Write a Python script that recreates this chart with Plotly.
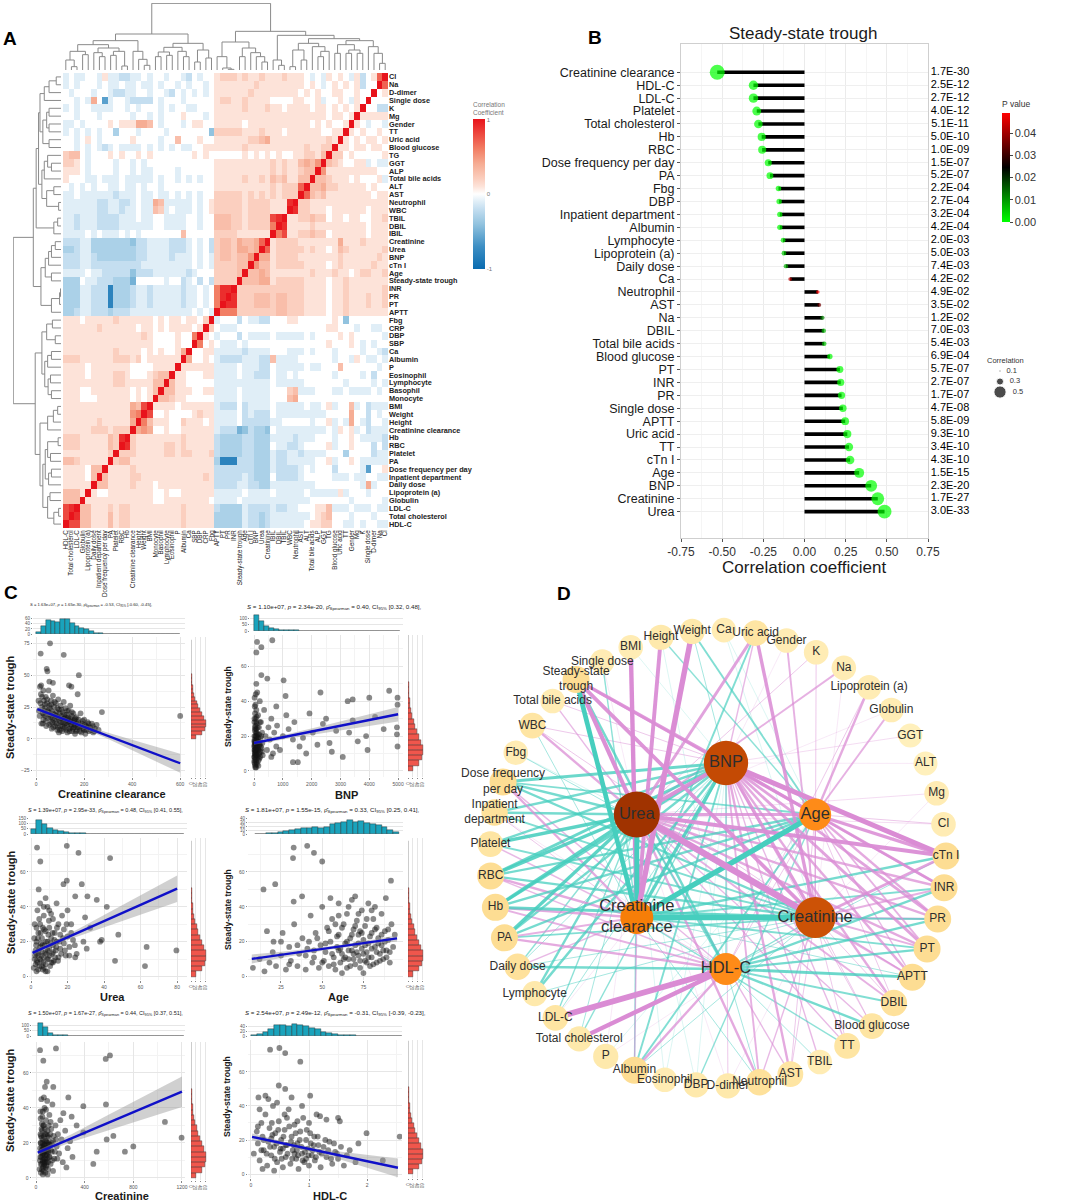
import numpy as np
import plotly.graph_objects as go

W, H = 1065, 1203
FONT = "Arial, Liberation Sans, sans-serif"

# ---------------- A: correlation heatmap ----------------
vars_a = ["Cl", "Na", "D-dimer", "Single dose", "K", "Mg", "Gender", "TT", "Uric acid",
          "Blood glucose", "TG", "GGT", "ALP", "Total bile acids", "ALT", "AST", "Neutrophil",
          "WBC", "TBIL", "DBIL", "IBIL", "Creatinine", "Urea", "BNP", "cTn I", "Age",
          "Steady-state trough", "INR", "PR", "PT", "APTT", "Fbg", "CRP", "DBP", "SBP", "Ca",
          "Albumin", "P", "Eosinophil", "Lymphocyte", "Basophil", "Monocyte", "BMI", "Weight",
          "Height", "Creatinine clearance", "Hb", "RBC", "Platelet", "PA",
          "Dose frequency per day", "Inpatient department", "Daily dose", "Lipoprotein (a)",
          "Globulin", "LDL-C", "Total cholesterol", "HDL-C"]

# one char per cell: i..a = -0.9..-0.1, 0..9 = 0..0.9, X = 1
code_levels = "ihgfedcba0123456789X"
# row r: cells left of the diagonal, from HDL-C down to the variable after r
corr_rows = [
    "a0aa0" "0a1" "aabb" "aa0a" "00a0" "0ab" "0a00" "1222" "121121" "112" "11" "10a0a" "1010a1b017",
    "a0a00" "0a0" "aa0a" "a0aa" "0a00" "a0a" "00a0" "1111" "111211" "111" "11" "1010a" "010101b00",
    "0a000" "a00" "abba" "a00a" "00ab" "0a0" "a0a0" "1111" "112111" "111" "11" "01010" "01100100",
    "00a0a" "40f" "a00a" "bbbb" "0a00" "0a0" "0000" "1221" "121111" "000" "01" "1001a" "0010a10",
    "a0a00" "aaa" "a00a" "0a00" "0a0a" "00a" "a000" "1111" "121112" "110" "11" "11011" "010101",
    "00a00" "0a0" "0000" "a00a" "0a00" "010" "00a0" "1111" "111111" "111" "11" "11111" "01101",
    "aa0a0" "000" "1011" "1443" "0a00" "0a0" "1100" "1111" "101111" "111" "11" "11010" "1001",
    "a0a0a" "0a0" "0c00" "0a00" "00a0" "000" "000d" "2222" "211121" "110" "11" "11110" "011",
    "00a01" "0a0" "0000" "1000" "0a00" "300" "0100" "1111" "112234" "111" "11" "11111" "21",
    "00a0a" "0ab" "a0aa" "aa0a" "0a0a" "0aa" "0011" "1111" "121111" "111" "11" "12112" "2",
    "2330a" "000" "1010" "0101" "0000" "000" "1010" "0000" "010101" "010" "01" "12213",
    "2210a" "000" "0a00" "a0a0" "0000" "000" "0000" "1111" "111111" "212" "11" "3435",
    "1110a" "000" "0a00" "a0aa" "0000" "a00" "0000" "1111" "111111" "212" "11" "233",
    "1000a" "a0a" "aa0a" "aaaa" "0a00" "a0a" "0a00" "1111" "121121" "323" "11" "33",
    "0a0a0" "a00" "aa0a" "a0a0" "0a00" "000" "0000" "1111" "111111" "212" "22" "7",
    "aa0aa" "aaa" "abaa" "a0aa" "0aa0" "a0a" "0a00" "2222" "212121" "212" "22",
    "aaaaa" "abb" "aabb" "a0aa" "43aa" "aaa" "0a01" "2222" "212222" "111" "9",
    "aaaaa" "abb" "aaba" "a0aa" "32a0" "aaa" "0a01" "2222" "212222" "111",
    "aabaa" "abb" "bbaa" "a0aa" "00aa" "aa0" "0a00" "3332" "212222" "89",
    "aabaa" "abb" "bbaa" "aaaa" "00aa" "aa0" "0a00" "3332" "212222" "6",
    "aaaa0" "a0a" "aa0a" "0a00" "0000" "030" "0000" "2222" "111111",
    "bbbaa" "ccc" "cccc" "dbba" "aaab" "bba" "0a0b" "2332" "43347",
    "ccbaa" "ccc" "cccc" "cbba" "aaab" "bba" "0a0b" "2332" "4434",
    "bbbaa" "bcc" "cccc" "cbba" "aaab" "aaa" "0a0a" "2332" "335",
    "bbbaa" "bbb" "bbbb" "bbaa" "aaaa" "aaa" "0a0a" "2222" "33",
    "aaaa0" "aab" "bbbb" "dbbb" "aaaa" "aab" "a000" "2222" "3",
    "ccc0a" "abb" "bccc" "e000" "00a0" "0ba" "0b0b" "2222",
    "cccaa" "bbb" "hccc" "baab" "aaaa" "aba" "a0a0" "699",
    "cccaa" "bbb" "hccc" "baab" "aaaa" "aba" "a0a0" "69",
    "cccaa" "bbb" "hccc" "baab" "aaaa" "aba" "a0a0" "6",
    "ccbaa" "bbb" "cbbb" "aaaa" "aaaa" "aaa" "0a0a",
    "11101" "111" "1211" "1111" "0101" "101" "102",
    "11111" "121" "1111" "1011" "0101" "111" "01",
    "11111" "111" "1111" "1121" "0000" "100" "6",
    "11111" "111" "1111" "1111" "0000" "100",
    "11111" "111" "1211" "1101" "0100" "14",
    "22211" "111" "1222" "1201" "1111" "1",
    "11110" "111" "1111" "0000" "1111",
    "11110" "111" "1221" "0001" "233",
    "11111" "111" "1221" "1111" "33",
    "11100" "111" "1111" "0101" "3",
    "11100" "011" "1111" "0101",
    "11111" "111" "1111" "438",
    "11111" "111" "1111" "56",
    "11111" "121" "1111" "4",
    "11111" "222" "1222",
    "22211" "111" "329",
    "22211" "111" "32",
    "11111" "111" "2",
    "33211" "111",
    "11110" "33",
    "11110" "3",
    "11111",
    "3331",
    "333",
    "89",
    "8",
    "",
]

# clustering tree: [height, left, right], leaves are row indices of vars_a
tree_a = [10.0,
          [5.8,
           [5.2,
            [4.7,
             [4.4,
              [3.5, [2.5, [1.0, 0, 1], 2], 3],
              [3.8, [3.0, [2.5, 4, 5], [2.5, 6, 7]], [2.5, 8, 9]]],
             [4.0,
              [3.5, [2.8, 10, [2.0, 11, 12]], 13],
              [3.0, [1.5, 14, 15], [0.5, 16, 17]]]],
            [1.5, [0.7, 18, 19], 20]],
           [4.2,
            [3.3, [2.6, [2.0, [1.2, 21, 22], 23], 24], [2.0, 25, 26]],
            [2.0, [0.3, [0.1, 27, 28], 29], 30]]],
          [5.4,
           [4.0,
            [3.0, [1.8, 31, 32], [1.2, 33, 34]],
            [3.4, [2.8, [2.0, 35, 36], 37], [2.7, [2.2, 38, 39], [2.0, 40, 41]]]],
           [4.4,
            [2.8, [1.6, [0.7, 42, 43], 44], 45],
            [3.8,
             [3.3, [2.8, [0.6, 46, 47], [2.2, 48, 49]], [2.6, [2.0, 50, 51], 52]],
             [2.8, [2.3, 53, 54], [1.5, [0.5, 55, 56], 57]]]]]]

# ---------------- B: lollipop ----------------
b_vars = ["Creatinine clearance", "HDL-C", "LDL-C", "Platelet", "Total cholesterol", "Hb", "RBC",
          "Dose frequency per day", "PA", "Fbg", "DBP", "Inpatient department", "Albumin",
          "Lymphocyte", "Lipoprotein (a)", "Daily dose", "Ca", "Neutrophil", "AST", "Na", "DBIL",
          "Total bile acids", "Blood glucose", "PT", "INR", "PR", "Single dose", "APTT",
          "Uric acid", "TT", "cTn I", "Age", "BNP", "Creatinine", "Urea"]
b_corr = [-0.53, -0.31, -0.31, -0.29, -0.28, -0.26, -0.257, -0.22, -0.21, -0.158, -0.154, -0.15,
          -0.15, -0.13, -0.125, -0.113, -0.087, 0.081, 0.09, 0.109, 0.117, 0.12, 0.154, 0.215,
          0.22, 0.225, 0.233, 0.247, 0.26, 0.27, 0.277, 0.332, 0.405, 0.445, 0.486]
b_p = ["1.7E-30", "2.5E-12", "2.7E-12", "4.0E-12", "5.1E-11", "5.0E-10", "1.0E-09", "1.5E-07",
       "5.2E-07", "2.2E-04", "2.7E-04", "3.2E-04", "4.2E-04", "2.0E-03", "5.0E-03", "7.4E-03",
       "4.2E-02", "4.9E-02", "3.5E-02", "1.2E-02", "7.0E-03", "5.4E-03", "6.9E-04", "5.7E-07",
       "2.7E-07", "1.7E-07", "4.7E-08", "5.8E-09", "9.3E-10", "3.4E-10", "4.3E-10", "1.5E-15",
       "2.3E-20", "1.7E-27", "3.0E-33"]
b_size_legend = [0.1, 0.3, 0.5]

# ---------------- C: scatter plots (x, steady-state trough) ----------------
crcl_pts = [(19, 67), (58, 75), (115, 66), (178, 50), (137, 42), (147, 41), (173, 35), (274, 21),
            (600, 18), (44, 55), (47, 53), (16, 41), (21, 42), (30, 38), (55, 45), (70, 44),
            (10, 30), (12, 22), (15, 18), (18, 28), (20, 35), (22, 12), (25, 25), (28, 20), (30, 15),
            (32, 30), (35, 24), (38, 18), (40, 33), (42, 10), (45, 28), (48, 22), (50, 16), (52, 38),
            (55, 26), (58, 19), (60, 12), (62, 30), (65, 22), (68, 16), (70, 34), (72, 9), (75, 25),
            (78, 19), (80, 13), (82, 28), (85, 21), (88, 7), (90, 17), (92, 31), (95, 23), (98, 14),
            (100, 10), (102, 26), (105, 18), (108, 6), (110, 21), (112, 13), (115, 29), (118, 16),
            (120, 9), (122, 24), (125, 12), (128, 19), (130, 5), (132, 15), (135, 22), (138, 8),
            (140, 14), (142, 26), (145, 11), (148, 18), (150, 6), (152, 13), (155, 20), (158, 9),
            (160, 15), (162, 4), (165, 11), (168, 17), (170, 7), (175, 13), (180, 9), (185, 20),
            (188, 5), (192, 12), (196, 8), (200, 15), (205, 4), (210, 10), (215, 13), (220, 6),
            (225, 9), (232, 12), (238, 5), (245, 8), (252, 11), (260, 7), (65, 8), (95, 5),
            (33, 19), (37, 27), (41, 14), (46, 31), (51, 21), (54, 11), (57, 24), (61, 17), (63, 27),
            (67, 13), (71, 20), (74, 15), (77, 29), (79, 10), (83, 18), (86, 12), (89, 24), (91, 9),
            (94, 16), (97, 20), (99, 7), (103, 13), (106, 23), (109, 10), (111, 16), (114, 8),
            (117, 19), (119, 12), (123, 17), (126, 7), (129, 22), (131, 11), (134, 17), (137, 13),
            (139, 6), (143, 16), (146, 9), (149, 21), (153, 8), (156, 14), (159, 11), (163, 16),
            (166, 6), (169, 12), (173, 9), (177, 15), (182, 6), (187, 10), (194, 14), (199, 7),
            (203, 11), (208, 7), (213, 9), (218, 12), (228, 7), (236, 10), (243, 6), (25, 33),
            (28, 12), (36, 22)]
bnp_pts = [(80, 68), (104, 74), (254, 71), (634, 75), (1026, 52), (254, 55), (80, 50), (461, 53),
           (1095, 43), (2306, 45), (3250, 40), (3424, 41), (4000, 42), (4690, 46), (4980, 42),
           (4980, 38), (4960, 25), (4960, 21), (4980, 14), (3940, 12), (3890, 20), (3080, 8),
           (3424, 29), (2620, 16), (2040, 22), (1810, 10), (1350, 5), (1520, 5), (1120, 32),
           (772, 37), (1925, 33), (2390, 27), (2850, 23), (1350, 18), (1003, 20), (772, 14),
           (657, 10), (1580, 14), (500, 25), (550, 18), (600, 30), (700, 22), (800, 26), (900, 12),
           (1200, 24), (1400, 28), (1700, 19), (2200, 15), (2500, 30), (2700, 11), (3300, 22),
           (3600, 17), (4200, 31), (4500, 24), (600, 8), (450, 12), (350, 35), (400, 20),
           (10, 5), (15, 12), (20, 18), (25, 8), (30, 25), (35, 14), (40, 3), (45, 20), (50, 10),
           (55, 30), (60, 16), (65, 6), (70, 22), (75, 12), (80, 35), (85, 9), (90, 18), (95, 27),
           (100, 4), (110, 14), (120, 21), (130, 8), (140, 32), (150, 12), (160, 17), (170, 25),
           (180, 7), (190, 15), (200, 40), (210, 11), (220, 19), (240, 28), (260, 13), (280, 22),
           (300, 9), (20, 42), (50, 38), (12, 28), (35, 33), (110, 45), (70, 2), (150, 3),
           (18, 15), (42, 24), (65, 11), (95, 20), (125, 16), (30, 9), (55, 13), (85, 24),
           (5, 8), (8, 14), (12, 20), (16, 6), (22, 11), (26, 16), (28, 23), (32, 4), (38, 10),
           (43, 17), (48, 26), (52, 7), (58, 12), (62, 20), (68, 15), (72, 9), (78, 28), (83, 13),
           (88, 5), (92, 22), (98, 11), (105, 17), (115, 9), (125, 25), (135, 13), (145, 19),
           (155, 6), (165, 14), (175, 21), (185, 10), (195, 16), (205, 28), (215, 8), (230, 14),
           (250, 20), (270, 11), (290, 16), (15, 30), (25, 37), (60, 44), (90, 31), (45, 2),
           (10, 17), (30, 12), (75, 18)]
urea_pts = [(3.3, 74), (5.1, 66), (19.6, 75), (26, 71), (43.3, 68), (17.8, 53), (19.6, 55),
            (27.8, 53), (4.2, 50), (24.2, 46), (30.9, 46), (36, 44), (41.5, 40), (38.7, 21),
            (37.8, 20), (47.8, 24), (46, 9), (63.3, 17), (62.4, 6), (79.6, 15), (30.5, 16), (25, 13),
            (24.2, 11), (28.7, 20), (32.4, 28), (29.6, 34), (1.5, 5), (2, 10), (2.5, 15), (3, 3),
            (3, 20), (3.5, 8), (4, 12), (4, 25), (4.5, 6), (5, 17), (5, 30), (5.5, 9), (6, 14),
            (6, 22), (6.5, 4), (7, 11), (7, 35), (7.5, 18), (8, 7), (8, 26), (8.5, 13), (9, 20),
            (9, 40), (9.5, 10), (10, 16), (10, 28), (10.5, 6), (11, 22), (11.5, 13), (12, 33),
            (12, 18), (12.5, 9), (13, 25), (13.5, 15), (14, 42), (14, 20), (15, 11), (15, 30),
            (16, 24), (16, 16), (17, 35), (18, 19), (18, 27), (19, 12), (20, 23), (20, 38), (21, 17),
            (22, 30), (23, 21), (2, 30), (3.5, 38), (5, 42), (6.5, 28), (8, 45), (9, 3), (11, 36),
            (1.8, 22), (4.5, 33), (3, 13), (5.5, 19), (7, 5), (9.5, 24), (12, 8), (2.5, 7),
            (2.2, 12), (2.8, 18), (3.2, 9), (3.8, 22), (4.2, 15), (4.8, 10), (5.2, 25), (5.8, 12),
            (6.2, 18), (6.8, 8), (7.2, 27), (7.8, 14), (8.2, 20), (8.8, 10), (9.2, 15), (9.8, 32),
            (10.2, 12), (10.8, 19), (11.2, 8), (11.8, 25), (12.2, 14), (12.8, 21), (13.2, 11),
            (13.8, 17), (14.2, 28), (14.8, 9), (15.5, 20), (16.5, 13), (17.5, 22), (18.5, 15),
            (19.5, 30), (21, 12), (22, 25), (24, 18), (4, 4), (6, 6), (8, 3), (10, 38), (3, 28),
            (7, 40)]
age_pts = [(32.7, 74), (40.9, 75), (45, 71), (50, 66), (32.3, 68), (14.4, 50), (21.5, 53),
           (91.7, 55), (88.6, 45), (37.8, 46), (32.7, 43), (16.5, 26), (20.5, 20), (8, 5), (12, 10),
           (15, 3), (18, 8), (20, 14), (22, 6), (25, 12), (26, 25), (28, 4), (30, 17), (31, 9),
           (33, 30), (35, 6), (36, 13), (38, 22), (40, 4), (41, 16), (43, 35), (44, 8), (45, 11),
           (46, 25), (48, 5), (49, 18), (50, 40), (51, 9), (52, 14), (53, 28), (54, 6), (55, 20),
           (56, 33), (57, 11), (58, 4), (59, 17), (60, 24), (60, 42), (61, 8), (62, 13), (63, 30),
           (64, 19), (65, 5), (65, 36), (66, 10), (67, 22), (68, 15), (68, 44), (69, 27), (70, 7),
           (70, 18), (71, 32), (72, 12), (72, 24), (73, 5), (74, 38), (74, 16), (75, 21), (76, 9),
           (76, 29), (77, 14), (78, 42), (78, 19), (79, 6), (80, 25), (80, 11), (81, 33), (82, 17),
           (83, 8), (83, 28), (84, 22), (85, 13), (86, 36), (86, 18), (87, 10), (88, 26), (89, 15),
           (90, 21), (91, 8), (92, 30), (93, 17), (94, 24), (58, 30), (62, 2), (66, 40), (75, 2),
           (82, 40), (70, 46), (55, 45), (63, 10), (69, 13), (77, 8), (73, 26), (60, 15),
           (45, 15), (47, 22), (50, 8), (52, 19), (54, 26), (56, 13), (57, 7), (59, 23), (61, 16),
           (62, 28), (64, 11), (65, 20), (66, 15), (67, 6), (68, 24), (69, 10), (70, 29), (71, 14),
           (72, 19), (73, 9), (74, 25), (75, 13), (76, 18), (77, 33), (78, 11), (79, 23), (80, 16),
           (81, 7), (82, 27), (83, 14), (84, 19), (85, 9), (86, 24), (87, 15), (88, 20), (89, 11),
           (90, 27), (91, 14), (40, 12), (42, 20), (35, 18), (30, 7), (25, 20), (60, 35), (72, 36),
           (80, 38)]
creat_pts = [(33, 73), (164, 74), (60, 67), (608, 70), (573, 68), (575, 42), (266, 46), (389, 41),
             (1060, 32), (1197, 23), (800, 18), (731, 15), (499, 15), (471, 8), (636, 24),
             (581, 22), (389, 26), (334, 30), (293, 35), (225, 37), (88, 55), (74, 52), (142, 52),
             (30, 5), (35, 12), (38, 20), (40, 3), (42, 15), (45, 28), (48, 8), (50, 18), (52, 35),
             (55, 10), (58, 22), (60, 4), (62, 14), (64, 30), (66, 7), (68, 19), (70, 40), (72, 11),
             (75, 25), (78, 16), (80, 6), (82, 33), (85, 21), (88, 9), (90, 13), (92, 44), (95, 27),
             (98, 17), (100, 5), (105, 23), (108, 12), (110, 36), (115, 19), (120, 8), (125, 28),
             (130, 15), (135, 42), (140, 21), (150, 11), (160, 30), (170, 18), (180, 25), (190, 14),
             (200, 33), (210, 22), (220, 9), (240, 27), (260, 17), (280, 21), (300, 12), (36, 38),
             (44, 45), (56, 2), (76, 3), (120, 32), (65, 46), (95, 2), (140, 4), (250, 6),
             (40, 24), (52, 13), (63, 18), (72, 9), (85, 15), (48, 31), (58, 6), (100, 20),
             (32, 10), (34, 17), (37, 25), (39, 8), (41, 20), (43, 12), (46, 23), (47, 16), (49, 5),
             (51, 27), (53, 14), (54, 20), (57, 9), (59, 30), (61, 17), (63, 11), (65, 24), (67, 15),
             (69, 8), (71, 19), (73, 28), (74, 13), (77, 21), (79, 10), (81, 17), (83, 25), (84, 7),
             (87, 14), (89, 20), (91, 11), (94, 17), (97, 24), (99, 9), (102, 15), (104, 30),
             (107, 19), (112, 12), (117, 25), (122, 16), (128, 20), (133, 10), (145, 24), (155, 15),
             (165, 22), (175, 11), (38, 34), (56, 38), (82, 39)]
hdl_pts = [(0.33, 73), (0.49, 74), (0.59, 71), (0.85, 66), (0.48, 52), (0.59, 50), (0.13, 45),
           (0.25, 46), (1.02, 46), (2.56, 22), (1.99, 24), (1.85, 18), (1.53, 31), (1.5, 33),
           (1.3, 32), (1.19, 34), (1.13, 35), (2.27, 8), (0.05, 12), (0.1, 25), (0.12, 18),
           (0.15, 8), (0.18, 30), (0.2, 22), (0.22, 14), (0.25, 35), (0.28, 5), (0.3, 19),
           (0.32, 27), (0.35, 11), (0.38, 40), (0.4, 16), (0.42, 24), (0.45, 7), (0.48, 31),
           (0.5, 13), (0.52, 20), (0.55, 4), (0.58, 26), (0.6, 10), (0.62, 17), (0.65, 38),
           (0.68, 6), (0.7, 22), (0.72, 14), (0.75, 29), (0.78, 9), (0.8, 18), (0.82, 3),
           (0.85, 25), (0.88, 12), (0.9, 33), (0.92, 7), (0.95, 20), (0.98, 15), (1.0, 5),
           (1.02, 24), (1.05, 11), (1.08, 17), (1.1, 8), (1.15, 22), (1.18, 13), (1.2, 4),
           (1.25, 16), (1.3, 10), (1.35, 19), (1.4, 6), (1.45, 13), (1.5, 9), (1.55, 16), (1.6, 5),
           (1.65, 11), (1.7, 14), (1.8, 7), (0.3, 44), (0.45, 42), (0.7, 45), (0.2, 3), (0.4, 2),
           (0.62, 33), (0.88, 40), (0.15, 38), (0.35, 21), (0.55, 15), (0.75, 12), (0.95, 9),
           (0.22, 20), (0.27, 12), (0.33, 16), (0.37, 23), (0.41, 9), (0.44, 18), (0.47, 26),
           (0.51, 15), (0.53, 9), (0.56, 22), (0.6, 17), (0.63, 12), (0.66, 28), (0.69, 19),
           (0.71, 9), (0.74, 17), (0.77, 24), (0.79, 14), (0.81, 11), (0.84, 20), (0.87, 16),
           (0.89, 8), (0.93, 13), (0.96, 26), (0.99, 11), (1.03, 18), (1.06, 14), (1.09, 22),
           (1.12, 10), (1.16, 17), (1.22, 12), (1.28, 20), (1.33, 14), (1.38, 9), (1.43, 18),
           (1.48, 12), (0.18, 14), (0.12, 28), (0.36, 30), (0.58, 35), (0.8, 31), (1.0, 30)]

# regression line and 95% band half-width, read at a few x positions
crcl_fit_x, crcl_fit_y, crcl_ci = [5, 150, 300, 450, 600], [23.4, 13.0, 2.3, -8.4, -19.2], [2.2, 1.2, 2.5, 5.0, 7.5]
bnp_fit_x, bnp_fit_y, bnp_ci = [0, 1250, 2500, 3750, 5000], [16.0, 20.1, 24.2, 28.4, 32.5], [1.0, 1.3, 2.2, 3.2, 4.2]
urea_fit_x, urea_fit_y, urea_ci = [0.8, 20, 40, 60, 80], [13.6, 22.5, 31.8, 41.1, 50.4], [1.2, 1.5, 3.5, 5.5, 7.6]
age_fit_x, age_fit_y, age_ci = [7.3, 30, 52, 74, 95.4], [10.1, 13.1, 16.1, 19.0, 21.9], [2.6, 1.6, 1.0, 1.0, 1.8]
creat_fit_x, creat_fit_y, creat_ci = [14, 300, 600, 900, 1200], [14.5, 22.9, 31.7, 40.5, 49.3], [1.2, 2.3, 4.5, 6.6, 8.7]
hdl_fit_x, hdl_fit_y, hdl_ci = [0.02, 0.65, 1.3, 1.9, 2.53], [21.8, 17.3, 12.6, 8.2, 3.7], [2.0, 1.0, 1.6, 3.5, 5.5]

# marginal histograms: (first bin edge, bin width, counts)
crcl_hist = (0, 20, [8, 30, 55, 50, 48, 60, 58, 45, 32, 25, 18, 10, 5, 3, 1, 0, 0, 0, 0, 0, 0, 0, 0, 0, 0, 0, 0, 0, 0, 1])
bnp_hist = (0, 175, [130, 78, 40, 22, 14, 10, 8, 6, 5, 4, 4, 3, 3, 2, 2, 2, 2, 1, 1, 2, 1, 1, 1, 1, 1, 1, 1, 1, 2])
urea_hist = (0, 3, [45, 135, 95, 55, 40, 30, 18, 10, 8, 5, 3, 3, 2, 2, 1, 1, 1, 1, 1, 1, 1, 0, 1, 0, 0, 0, 1, 1])
age_hist = (9, 3.5, [1, 1, 2, 3, 6, 8, 10, 12, 14, 16, 17, 15, 17, 24, 28, 30, 36, 30, 34, 28, 26, 22, 18, 10, 4])
creat_hist = (20, 40, [130, 85, 25, 12, 8, 5, 4, 3, 2, 2, 2, 1, 1, 1, 1, 1, 1, 0, 1, 0, 0, 0, 0, 0, 1, 0, 0, 1, 0, 1])
hdl_hist = (0, 0.1, [3, 8, 15, 28, 45, 45, 42, 50, 45, 40, 32, 30, 18, 12, 8, 6, 5, 3, 2, 2, 1, 1, 1, 1, 0, 1])
sst_hist = (0, 3, [20, 45, 60, 65, 62, 55, 48, 38, 30, 24, 18, 13, 10, 8, 6, 4, 3, 2, 1, 1, 0, 1, 1, 1, 2, 1])

c_titles = ["Creatinine clearance", "BNP", "Urea", "Age", "Creatinine", "HDL-C"]
c_stats = [("1.63e+07", "1.65e-30", "-0.53", "[-0.60, -0.45]"),
           ("1.10e+07", "2.34e-20", "0.40", "[0.32, 0.48]"),
           ("1.39e+07", "2.95e-33", "0.48", "[0.41, 0.55]"),
           ("1.81e+07", "1.55e-15", "0.33", "[0.25, 0.41]"),
           ("1.50e+07", "1.67e-27", "0.44", "[0.37, 0.51]"),
           ("2.54e+07", "2.49e-12", "-0.31", "[-0.39, -0.23]")]

# ---------------- D: correlation network ----------------
ring_nodes = ["Ca", "Uric acid", "Gender", "K", "Na", "Lipoprotein (a)", "Globulin", "GGT", "ALT",
              "Mg", "Cl", "cTn I", "INR", "PR", "PT", "APTT", "DBIL", "Blood glucose", "TT", "TBIL",
              "AST", "Neutrophil", "D-dimer", "DBP", "Eosinophil", "Albumin", "P",
              "Total cholesterol", "LDL-C", "Lymphocyte", "Daily dose", "PA", "Hb", "RBC",
              "Platelet", "Inpatient department", "Dose frequency per day", "Fbg", "WBC",
              "Total bile acids", "Steady-state trough", "Single dose", "BMI", "Height", "Weight"]
hubs = ["BNP", "Age", "Creatinine", "HDL-C", "Creatinine clearance", "Urea"]

net_urea = {"BNP": 0.45, "Creatinine": 0.70, "Creatinine clearance": -0.55, "Age": 0.35, "HDL-C": -0.25,
            "Uric acid": 0.35, "K": 0.15, "Na": 0.25, "Globulin": 0.10, "Mg": 0.12, "Cl": 0.12,
            "cTn I": 0.45, "INR": 0.30, "PR": 0.30, "PT": 0.30, "APTT": 0.25, "DBIL": 0.25,
            "Blood glucose": 0.20, "TT": 0.20, "AST": 0.20, "Neutrophil": 0.30, "D-dimer": 0.10,
            "DBP": -0.10, "Eosinophil": -0.10, "Albumin": -0.20, "P": 0.10, "Total cholesterol": -0.15,
            "LDL-C": -0.20, "Lymphocyte": -0.30, "Daily dose": -0.20, "PA": -0.40, "Hb": -0.40,
            "RBC": -0.40, "Platelet": -0.40, "Inpatient department": -0.30,
            "Dose frequency per day": -0.30, "Fbg": -0.10, "WBC": 0.30, "Total bile acids": 0.20,
            "Steady-state trough": 0.48, "Single dose": 0.10}
net_bnp = {"Creatinine": 0.40, "Age": 0.35, "Creatinine clearance": -0.40, "HDL-C": -0.20,
           "Uric acid": 0.20, "Gender": 0.10, "GGT": 0.12, "ALT": 0.10, "cTn I": 0.55, "INR": 0.35,
           "PR": 0.35, "PT": 0.35, "APTT": 0.30, "DBIL": 0.30, "Blood glucose": 0.15, "TT": 0.20,
           "TBIL": 0.20, "AST": 0.30, "Neutrophil": 0.25, "D-dimer": 0.15, "DBP": -0.10,
           "Eosinophil": -0.10, "Albumin": -0.25, "Total cholesterol": -0.20, "LDL-C": -0.15,
           "Lymphocyte": -0.30, "Daily dose": -0.15, "PA": -0.30, "Hb": -0.35, "RBC": -0.35,
           "Platelet": -0.30, "Inpatient department": -0.30, "Dose frequency per day": -0.35,
           "WBC": 0.15, "Total bile acids": 0.15, "Steady-state trough": 0.40, "BMI": -0.10,
           "Weight": -0.15}
net_creatinine = {"Creatinine clearance": -0.60, "Age": 0.20, "HDL-C": -0.20, "Ca": -0.10,
                  "Uric acid": 0.40, "Gender": 0.25, "K": 0.15, "Na": 0.10, "Mg": 0.10, "cTn I": 0.35,
                  "INR": 0.25, "PR": 0.25, "PT": 0.25, "APTT": 0.20, "DBIL": 0.15, "Blood glucose": 0.15,
                  "TT": 0.15, "AST": 0.15, "Neutrophil": 0.20, "D-dimer": 0.10, "Albumin": -0.15,
                  "P": 0.10, "Lymphocyte": -0.15, "Daily dose": -0.15, "PA": -0.25, "Hb": -0.35,
                  "RBC": -0.30, "Platelet": -0.25, "Inpatient department": -0.25,
                  "Dose frequency per day": -0.30, "Fbg": -0.15, "WBC": 0.15,
                  "Steady-state trough": 0.44}
net_crcl = {"Age": -0.60, "HDL-C": 0.15, "Uric acid": -0.25, "cTn I": -0.30, "INR": -0.25, "PR": -0.25,
            "PT": -0.25, "APTT": -0.15, "TT": -0.20, "Neutrophil": -0.15, "Albumin": 0.20, "LDL-C": 0.10,
            "Daily dose": 0.20, "PA": 0.25, "Hb": 0.30, "RBC": 0.30, "Platelet": 0.20,
            "Inpatient department": 0.15, "Dose frequency per day": 0.30, "WBC": -0.15,
            "Steady-state trough": -0.53, "Single dose": -0.20, "BMI": 0.50, "Height": 0.45,
            "Weight": 0.60}
net_age = {"HDL-C": 0.15, "Lipoprotein (a)": 0.30, "Globulin": 0.25, "Cl": 0.15, "cTn I": 0.40,
           "INR": 0.30, "PR": 0.30, "PT": 0.25, "APTT": 0.20, "DBIL": 0.15, "AST": 0.15, "DBP": -0.20,
           "Albumin": -0.25, "PA": -0.30, "Hb": -0.30, "RBC": -0.30, "Dose frequency per day": -0.25,
           "Steady-state trough": 0.33, "Height": -0.20, "Weight": -0.25, "Ca": -0.10, "P": -0.10}
net_hdl = {"Lipoprotein (a)": 0.15, "cTn I": -0.15, "INR": -0.30, "PR": -0.30, "PT": -0.30, "APTT": -0.35,
           "DBIL": -0.25, "Blood glucose": -0.30, "TBIL": -0.15, "Neutrophil": -0.15, "Albumin": 0.30,
           "Total cholesterol": 0.50, "LDL-C": 0.65, "Daily dose": -0.30, "PA": 0.30, "Hb": 0.25,
           "RBC": 0.20, "Inpatient department": 0.10, "Dose frequency per day": 0.20,
           "Steady-state trough": -0.31, "Height": -0.10}

# ======================================================================
fig = go.Figure()
lay = {}
ann = []
n_ax = [0]


def xd(a, b):
    return [a / W, b / W]


def yd(a, b):
    return [1 - b / H, 1 - a / H]


def axes(xdom, ydom, xkw=None, ykw=None):
    n_ax[0] += 1
    s = "" if n_ax[0] == 1 else str(n_ax[0])
    base = dict(showgrid=False, zeroline=False, showticklabels=False, ticks="", showline=False,
                automargin=False)
    xa = dict(base, domain=xdom, anchor="y" + s)
    ya = dict(base, domain=ydom, anchor="x" + s)
    xa.update(xkw or {})
    ya.update(ykw or {})
    lay["xaxis" + s] = xa
    lay["yaxis" + s] = ya
    return "x" + s, "y" + s


def text(x, y, t, size, bold=False, color="#1a1a1a", xanchor="center", angle=0):
    ann.append(dict(x=x / W, y=1 - y / H, xref="paper", yref="paper", showarrow=False,
                    text="<b>%s</b>" % t if bold else t, xanchor=xanchor, yanchor="middle",
                    textangle=angle, font=dict(size=size, color=color, family=FONT)))


# ---------------- panel A ----------------
n = len(vars_a)
M = np.eye(n)
for r, s in enumerate(corr_rows):
    for k, ch in enumerate(s):
        v = n - 1 - k
        M[r, v] = M[v, r] = (code_levels.index(ch) - 9) / 10.0
z = M[:, ::-1]

heat_scale = [[0.0, "#0a6cb0"], [0.15, "#3d8fc4"], [0.3, "#92c3df"], [0.4, "#c4def0"],
              [0.45, "#e0eef7"], [0.5, "#ffffff"], [0.55, "#fde3d9"], [0.6, "#fbcfbf"],
              [0.7, "#f6ad94"], [0.8, "#f27e64"], [1.0, "#e8131b"]]
ax, ay = axes(xd(63, 388), yd(73, 528),
              dict(range=[-0.5, n - 0.5], showticklabels=True, tickmode="array",
                   tickvals=list(range(n)), ticktext=[vars_a[n - 1 - c] for c in range(n)],
                   tickangle=-90, tickfont=dict(size=6.3, color="#222")),
              dict(range=[n - 0.5, -0.5], side="right", showticklabels=True, tickmode="array",
                   tickvals=list(range(n)), ticktext=["<b>%s</b>" % v for v in vars_a],
                   tickfont=dict(size=7.3, color="#222")))
fig.add_trace(go.Heatmap(z=z, x=list(range(n)), y=list(range(n)), zmin=-1, zmax=1,
                         colorscale=heat_scale, xaxis=ax, yaxis=ay, hoverinfo="skip",
                         colorbar=dict(x=473 / W, xanchor="left", y=1 - 184 / H, yanchor="middle",
                                       len=170 / H, thickness=12, outlinewidth=0, xpad=0, ypad=0,
                                       tickvals=[-1, 0, 1], ticktext=["-1", "0", "1"],
                                       tickfont=dict(size=6, color="#777"),
                                       title=dict(text="Correlation<br>Coefficient", side="top",
                                                  font=dict(size=6.5, color="#777")))))


def dendro(node, leafpos, out):
    if isinstance(node, int):
        return leafpos(node), 0.0
    h, a, b = node
    pa, ha = dendro(a, leafpos, out)
    pb, hb = dendro(b, leafpos, out)
    out.append([(pa, ha), (pa, h), (pb, h), (pb, hb)])
    return (pa + pb) / 2.0, h


segs_top = []
dendro(tree_a, lambda v: n - 1 - v, segs_top)
tx, ty = [], []
for seg in segs_top:
    tx += [p[0] for p in seg] + [None]
    ty += [p[1] for p in seg] + [None]
ax, ay = axes(xd(63, 388), yd(3, 70), dict(range=[-0.5, n - 0.5]), dict(range=[0, 10.05]))
fig.add_trace(go.Scatter(x=tx, y=ty, mode="lines", line=dict(color="#8a8a8a", width=1),
                         xaxis=ax, yaxis=ay, hoverinfo="skip"))

segs_left = []
dendro(tree_a, lambda v: v, segs_left)
lx, ly = [], []
for seg in segs_left:
    lx += [p[1] for p in seg] + [None]
    ly += [p[0] for p in seg] + [None]
ax, ay = axes(xd(13, 61), yd(73, 528), dict(range=[10.05, 0]), dict(range=[n - 0.5, -0.5]))
fig.add_trace(go.Scatter(x=lx, y=ly, mode="lines", line=dict(color="#8a8a8a", width=1),
                         xaxis=ax, yaxis=ay, hoverinfo="skip"))

# ---------------- panel B ----------------
nb = len(b_vars)
b_pos = [nb - 1 - i for i in range(nb)]
b_pnum = [float(p) for p in b_p]
b_yrange = [-2.04, 36.19]


def dot_size(r):
    return 1.5 + 25.5 * abs(r)


ax, ay = axes(xd(681, 928), yd(44, 538),
              dict(range=[-0.75, 0.75], showticklabels=True, tickmode="array",
                   tickvals=[-0.75, -0.5, -0.25, 0, 0.25, 0.5, 0.75],
                   ticktext=["-0.75", "-0.50", "-0.25", "0.00", "0.25", "0.50", "0.75"],
                   tickfont=dict(size=12, color="#333"), ticks="outside", ticklen=3,
                   tickcolor="#555", showgrid=True, gridcolor="#ebebeb",
                   minor=dict(tickvals=[-0.625, -0.375, -0.125, 0.125, 0.375, 0.625],
                              showgrid=True, gridcolor="#f5f5f5"),
                   showline=True, mirror=True, linecolor="#cfcfcf"),
              dict(range=b_yrange, showticklabels=True, tickmode="array", tickvals=b_pos,
                   ticktext=b_vars, tickfont=dict(size=12.5, color="#1a1a1a"), ticks="outside",
                   ticklen=3, tickcolor="#555", showgrid=True, gridcolor="#efefef",
                   showline=True, mirror=True, linecolor="#cfcfcf"))
lx, ly = [], []
for r, yv in zip(b_corr, b_pos):
    lx += [0, r, None]
    ly += [yv, yv, None]
fig.add_trace(go.Scatter(x=lx, y=ly, mode="lines", line=dict(color="black", width=3.6),
                         xaxis=ax, yaxis=ay, hoverinfo="skip"))
fig.add_trace(go.Scatter(x=b_corr, y=b_pos, mode="markers", xaxis=ax, yaxis=ay, hoverinfo="skip",
                         marker=dict(size=[dot_size(r) for r in b_corr], color=b_pnum, cmin=0,
                                     cmax=0.049, line=dict(width=0),
                                     colorscale=[[0, "#00ff00"], [0.5, "#000000"], [1, "#ff0000"]],
                                     showscale=True,
                                     colorbar=dict(x=1002 / W, xanchor="left", y=1 - 160 / H,
                                                   yanchor="middle", len=124 / H, thickness=8,
                                                   outlinewidth=0, ticks="outside", ticklen=3,
                                                   xpad=0, ypad=0,
                                                   tickvals=[0, 0.01, 0.02, 0.03, 0.04],
                                                   ticktext=["0.00", "0.01", "0.02", "0.03", "0.04"],
                                                   tickfont=dict(size=11, color="#333"),
                                                   title=dict(text="P value", side="top",
                                                              font=dict(size=8.5, color="#333"))))))
# p-value column to the right of the panel, on its own axis sharing the row positions
ax, ay = axes(xd(930, 970), yd(44, 538), dict(range=[-1, 1]), dict(range=b_yrange))
fig.add_trace(go.Scatter(x=[0] * nb, y=b_pos, mode="text", text=b_p,
                         textfont=dict(size=11, color="#000", family=FONT), xaxis=ax, yaxis=ay,
                         hoverinfo="skip"))
text(803, 34, "Steady-state trough", 17)
text(804, 567, "Correlation coefficient", 17)

ax, ay = axes(xd(990, 1045), yd(360, 400), dict(range=[-1, 4.5]), dict(range=[0.652, -0.11]))
fig.add_trace(go.Scatter(x=[0] * 3, y=b_size_legend, mode="markers+text", xaxis=ax, yaxis=ay,
                         marker=dict(size=[dot_size(r) - 2 for r in b_size_legend], color="black"),
                         text=["  %.1f" % v for v in b_size_legend], textposition="middle right",
                         textfont=dict(size=7.5, color="#333"), hoverinfo="skip"))
text(1005, 361, "Correlation", 7.5, color="#333")

# ---------------- panel C ----------------
c_data = [(crcl_pts, crcl_hist, crcl_fit_x, crcl_fit_y, crcl_ci),
          (bnp_pts, bnp_hist, bnp_fit_x, bnp_fit_y, bnp_ci),
          (urea_pts, urea_hist, urea_fit_x, urea_fit_y, urea_ci),
          (age_pts, age_hist, age_fit_x, age_fit_y, age_ci),
          (creat_pts, creat_hist, creat_fit_x, creat_fit_y, creat_ci),
          (hdl_pts, hdl_hist, hdl_fit_x, hdl_fit_y, hdl_ci)]
# layout of the six small plots (pixels)
c_boxes = [dict(main=(33, 185, 637, 777), top=(617, 634), right=(191, 208), xr=[-13, 620], yr=[-30, 80],
                xdt=200, ydt=25, hdt=20, stat=(28, 605, 4.2), yt=(10, 707, 11), xt=(112, 794, 11)),
           dict(main=(250, 403, 635, 777), top=(613, 631), right=(408, 425), xr=[-140, 5170], yr=[-3.5, 78],
                xdt=1000, ydt=20, hdt=50, stat=(245, 607, 6.2), yt=(228, 707, 8.6), xt=(347, 795, 11)),
           dict(main=(29, 187, 838, 980), top=(818, 834), right=(191, 208), xr=[-1.1, 85.4], yr=[-2, 79.5],
                xdt=20, ydt=20, hdt=50, stat=(26, 810, 5.5), yt=(11, 902, 11), xt=(112, 997, 11)),
           dict(main=(248, 403, 838, 980), top=(818, 834), right=(408, 425), xr=[5, 99], yr=[-2, 79.5],
                xdt=25, ydt=20, hdt=10, stat=(243, 810, 6.2), yt=(228, 910, 8.6), xt=(338, 997, 11)),
           dict(main=(32, 185, 1042, 1180), top=(1021, 1036), right=(191, 208), xr=[-33, 1225],
                yr=[-1.2, 77.7], xdt=400, ydt=20, hdt=50, stat=(26, 1013, 5.5), yt=(10, 1100, 11),
                xt=(122, 1196, 11)),
           dict(main=(248, 402, 1040, 1178), top=(1022, 1036), right=(408, 425), xr=[-0.05, 2.6],
                yr=[-2.3, 78.7], xdt=1, ydt=20, hdt=20, stat=(243, 1013, 6.2), yt=(227, 1097, 8.6),
                xt=(330, 1196, 11))]

tickf = dict(size=5, color="#555")
grid = dict(showgrid=True, gridcolor="#e6e6e6", gridwidth=0.6)
for (pts, hist, fx, fy, ci), box, title, st in zip(c_data, c_boxes, c_titles, c_stats):
    x0, x1, y0, y1 = box["main"]
    ax, ay = axes(xd(x0, x1), yd(y0, y1),
                  dict(grid, range=box["xr"], showticklabels=True, tick0=0, dtick=box["xdt"],
                       tickfont=tickf, ticks="outside", ticklen=1.5, tickcolor="#888",
                       minor=dict(dtick=box["xdt"] / 2, showgrid=True, gridcolor="#f3f3f3")),
                  dict(grid, range=box["yr"], showticklabels=True, tick0=0, dtick=box["ydt"],
                       tickfont=tickf, ticks="outside", ticklen=1.5, tickcolor="#888",
                       minor=dict(dtick=box["ydt"] / 2, showgrid=True, gridcolor="#f3f3f3")))
    px = [p[0] for p in pts]
    py = [p[1] for p in pts]
    fig.add_trace(go.Scatter(x=px, y=py, mode="markers", xaxis=ax, yaxis=ay, hoverinfo="skip",
                             marker=dict(size=5.8, color="rgba(20,20,20,0.5)", line=dict(width=0))))
    fyu = [a + b for a, b in zip(fy, ci)]
    fyl = [a - b for a, b in zip(fy, ci)]
    fig.add_trace(go.Scatter(x=fx + fx[::-1], y=fyu + fyl[::-1], fill="toself", mode="lines",
                             line=dict(width=0), fillcolor="rgba(150,150,150,0.45)",
                             xaxis=ax, yaxis=ay, hoverinfo="skip"))
    fig.add_trace(go.Scatter(x=fx, y=fy, mode="lines", line=dict(color="#1010c8", width=2.4),
                             xaxis=ax, yaxis=ay, hoverinfo="skip"))

    h0, hw, counts = hist
    centers = [h0 + hw * (i + 0.5) for i in range(len(counts))]
    t0, t1 = box["top"]
    ax, ay = axes(xd(x0, x1), yd(t0, t1), dict(range=box["xr"]),
                  dict(grid, range=[0, max(counts) * 1.12], showticklabels=True, tick0=0,
                       dtick=box["hdt"], tickfont=dict(size=4.5, color="#555"), ticks="outside",
                       ticklen=1, tickcolor="#888"))
    fig.add_trace(go.Bar(x=centers, y=counts, width=hw, xaxis=ax, yaxis=ay, hoverinfo="skip",
                         marker=dict(color="#1aa3bc", line=dict(color="#222", width=0.4))))

    s0, sw, scounts = sst_hist
    scenters = [s0 + sw * (i + 0.5) for i in range(len(scounts))]
    r0, r1 = box["right"]
    ax, ay = axes(xd(r0, r1), yd(y0, y1),
                  dict(grid, range=[0, 72], showticklabels=True, tick0=0, dtick=20,
                       tickfont=dict(size=4.5, color="#555"), ticks="outside", ticklen=1,
                       tickcolor="#888"),
                  dict(range=box["yr"]))
    fig.add_trace(go.Bar(y=scenters, x=scounts, width=sw, orientation="h", xaxis=ax, yaxis=ay,
                         hoverinfo="skip",
                         marker=dict(color="#f0564c", line=dict(color="#222", width=0.4))))

    sx, sy, ss = box["stat"]
    stat = ("<i>S</i> = %s, <i>p</i> = %s, ρ̂<sub>Spearman</sub> = %s, CI<sub>95%%</sub> %s,"
            % st)
    text(sx, sy, stat, ss, color="#222", xanchor="left")
    yx, yy, ys = box["yt"]
    text(yx, yy, "Steady-state trough", ys, bold=True, angle=-90)
    xx, xy, xs = box["xt"]
    text(xx, xy, title, xs, bold=True)

# ---------------- panel D ----------------
ax, ay = axes(xd(440, 1065), yd(580, 1203), dict(range=[440, 1065]), dict(range=[1203, 580]))
pos = {}
cx, cy, R = 718, 858, 228
for i, name in enumerate(ring_nodes):
    a = np.deg2rad(88.5 - i * 360.0 / len(ring_nodes))
    pos[name] = (cx + R * np.cos(a), cy - R * np.sin(a))
for name, ang in zip(hubs, [90, 30, -30, -90, -150, 150]):
    a = np.deg2rad(ang)
    pos[name] = (726 + 103 * np.cos(a), 866 - 103 * np.sin(a))

edges = []
for hub, d in [("Urea", net_urea), ("BNP", net_bnp), ("Creatinine", net_creatinine),
               ("Creatinine clearance", net_crcl), ("Age", net_age), ("HDL-C", net_hdl)]:
    for node, r in d.items():
        edges.append((hub, node, r))
edges.sort(key=lambda e: abs(e[2]))
deg = {}
for a, b, r in edges:
    deg[a] = deg.get(a, 0) + 1
    deg[b] = deg.get(b, 0) + 1

for a, b, r in edges:
    c = (218, 140, 212) if r > 0 else (70, 206, 190)
    alpha = min(1.0, 0.35 + 1.3 * abs(r))
    fig.add_trace(go.Scatter(x=[pos[a][0], pos[b][0]], y=[pos[a][1], pos[b][1]], mode="lines",
                             line=dict(color="rgba(%d,%d,%d,%.2f)" % (c + (alpha,)),
                                       width=max(0.4, 10 * abs(r) - 0.6)),
                             xaxis=ax, yaxis=ay, hoverinfo="skip"))

dmax = max(deg.values())
node_scale = [[0, "#fff0bc"], [0.14, "#fddb8e"], [0.5, "#ffa040"], [0.62, "#ff8c1a"],
              [0.7, "#f27800"], [0.85, "#cc5206"], [0.95, "#c44a04"], [1, "#a03300"]]
label_map = {"Steady-state trough": "Steady-state<br>trough",
             "Dose frequency per day": "Dose frequency<br>per day",
             "Inpatient department": "Inpatient<br>department",
             "Creatinine clearance": "Creatinine<br>clearance"}
for group, fsize in [(ring_nodes, 12), (hubs, 16.5)]:
    dg = [deg.get(v, 1) for v in group]
    fig.add_trace(go.Scatter(x=[pos[v][0] for v in group], y=[pos[v][1] for v in group],
                             mode="markers", xaxis=ax, yaxis=ay, hoverinfo="skip",
                             marker=dict(size=list(np.interp(dg, [1, 6, 26, 28, 35, 41],
                                                             [24, 27, 32, 33, 41, 46])),
                                         color=dg, cmin=1, cmax=dmax, colorscale=node_scale,
                                         opacity=1, line=dict(width=0))))
    fig.add_trace(go.Scatter(x=[pos[v][0] for v in group], y=[pos[v][1] for v in group],
                             mode="text", text=[label_map.get(v, v) for v in group],
                             textfont=dict(size=fsize, color="#2e2e2e", family=FONT),
                             cliponaxis=False, xaxis=ax, yaxis=ay, hoverinfo="skip"))

# panel letters
for t, x, y in [("A", 10, 39), ("B", 595, 37), ("C", 11, 592), ("D", 564, 593)]:
    text(x, y, t, 19, bold=True, color="#000")

fig.update_layout(width=W, height=H, autosize=False, margin=dict(l=0, r=0, t=0, b=0, pad=0),
                  showlegend=False, paper_bgcolor="white", plot_bgcolor="white", bargap=0,
                  font=dict(family=FONT, color="#222"), annotations=ann, **lay)
# the page's default body margin would push the figure off its 1065x1203 window
fig.write_html("out.html", config={"displayModeBar": False, "responsive": False},
               post_script="document.body.style.margin = '0px';")
